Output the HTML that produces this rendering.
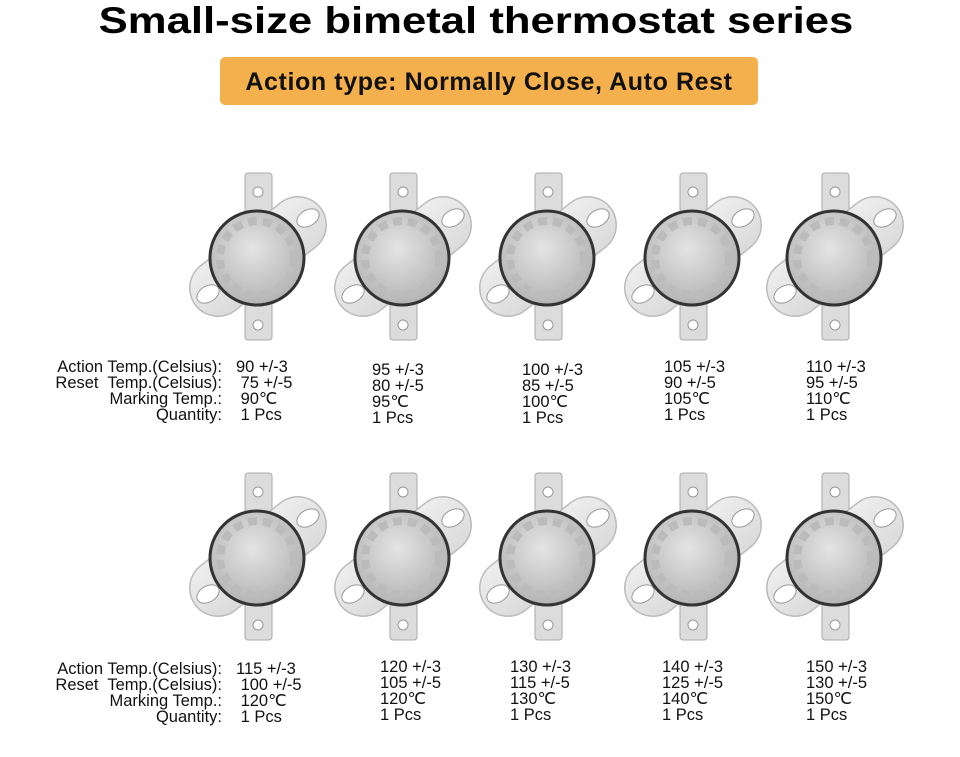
<!DOCTYPE html>
<html><head><meta charset="utf-8"><style>
body{margin:0;background:#fff;width:960px;height:757px;position:relative;overflow:hidden;font-family:"Liberation Sans",Arial,sans-serif}
.t{position:absolute;font-size:16.5px;line-height:16px;color:#111;white-space:pre}
.r{text-align:right}
</style></head><body>
<div style="position:absolute;left:0;width:952px;top:0px;text-align:center;font-weight:bold;font-size:37px;color:#000;transform:scaleX(1.18);transform-origin:476px 0">Small-size bimetal thermostat series</div>
<div style="position:absolute;left:220px;top:57px;width:538px;height:48px;background:#f4b04c;border-radius:5px;text-align:center;line-height:50px;font-weight:bold;font-size:25px;color:#111;letter-spacing:0.6px">Action type: Normally Close, Auto Rest</div>
<svg width="960" height="757" style="position:absolute;left:0;top:0">
<defs>
<radialGradient id="g" cx="45%" cy="40%" r="60%"><stop offset="0" stop-color="#e4e4e4"/><stop offset="1" stop-color="#b4b4b4"/></radialGradient>
<linearGradient id="f" x1="0" y1="0" x2="1" y2="1"><stop offset="0" stop-color="#f4f4f4"/><stop offset="1" stop-color="#d4d4d4"/></linearGradient>
<g id="th">
<rect x="65" y="3" width="27" height="167" rx="3" fill="#dcdcdc" stroke="#aaa"/>
<circle cx="78" cy="22" r="5" fill="#fff" stroke="#999"/>
<circle cx="78" cy="155" r="5" fill="#fff" stroke="#999"/>
<line x1="38" y1="118" x2="118" y2="55" stroke="#bbb" stroke-width="58" stroke-linecap="round"/>
<line x1="38" y1="118" x2="118" y2="55" stroke="url(#f)" stroke-width="55" stroke-linecap="round"/>
<ellipse cx="28" cy="124" rx="12" ry="8" fill="#fff" stroke="#999" transform="rotate(-30 28 124)"/>
<ellipse cx="128" cy="48" rx="12" ry="8" fill="#fff" stroke="#999" transform="rotate(-30 128 48)"/>
<circle cx="77" cy="88" r="47" fill="url(#g)" stroke="#333" stroke-width="3"/>
<circle cx="77" cy="88" r="37" fill="none" stroke="#bbb" stroke-width="8" stroke-dasharray="9 6"/>
</g>
</defs>
<use href="#th" x="180" y="170"/><use href="#th" x="325" y="170"/><use href="#th" x="470" y="170"/><use href="#th" x="615" y="170"/><use href="#th" x="757" y="170"/>
<use href="#th" x="180" y="470"/><use href="#th" x="325" y="470"/><use href="#th" x="470" y="470"/><use href="#th" x="615" y="470"/><use href="#th" x="757" y="470"/>
</svg>
<div class="t r" style="left:10px;width:212px;top:359px">Action Temp.(Celsius):
Reset  Temp.(Celsius):
Marking Temp.:
Quantity:</div>
<div class="t" style="left:236px;top:359px">90 +/-3
 75 +/-5
 90℃
 1 Pcs</div>
<div class="t" style="left:372px;top:362px">95 +/-3
80 +/-5
95℃
1 Pcs</div>
<div class="t" style="left:522px;top:362px">100 +/-3
85 +/-5
100℃
1 Pcs</div>
<div class="t" style="left:664px;top:359px">105 +/-3
90 +/-5
105℃
1 Pcs</div>
<div class="t" style="left:806px;top:359px">110 +/-3
95 +/-5
110℃
1 Pcs</div>
<div class="t r" style="left:10px;width:212px;top:661px">Action Temp.(Celsius):
Reset  Temp.(Celsius):
Marking Temp.:
Quantity:</div>
<div class="t" style="left:236px;top:661px">115 +/-3
 100 +/-5
 120℃
 1 Pcs</div>
<div class="t" style="left:380px;top:659px">120 +/-3
105 +/-5
120℃
1 Pcs</div>
<div class="t" style="left:510px;top:659px">130 +/-3
115 +/-5
130℃
1 Pcs</div>
<div class="t" style="left:662px;top:659px">140 +/-3
125 +/-5
140℃
1 Pcs</div>
<div class="t" style="left:806px;top:659px">150 +/-3
130 +/-5
150℃
1 Pcs</div>
</body></html>
